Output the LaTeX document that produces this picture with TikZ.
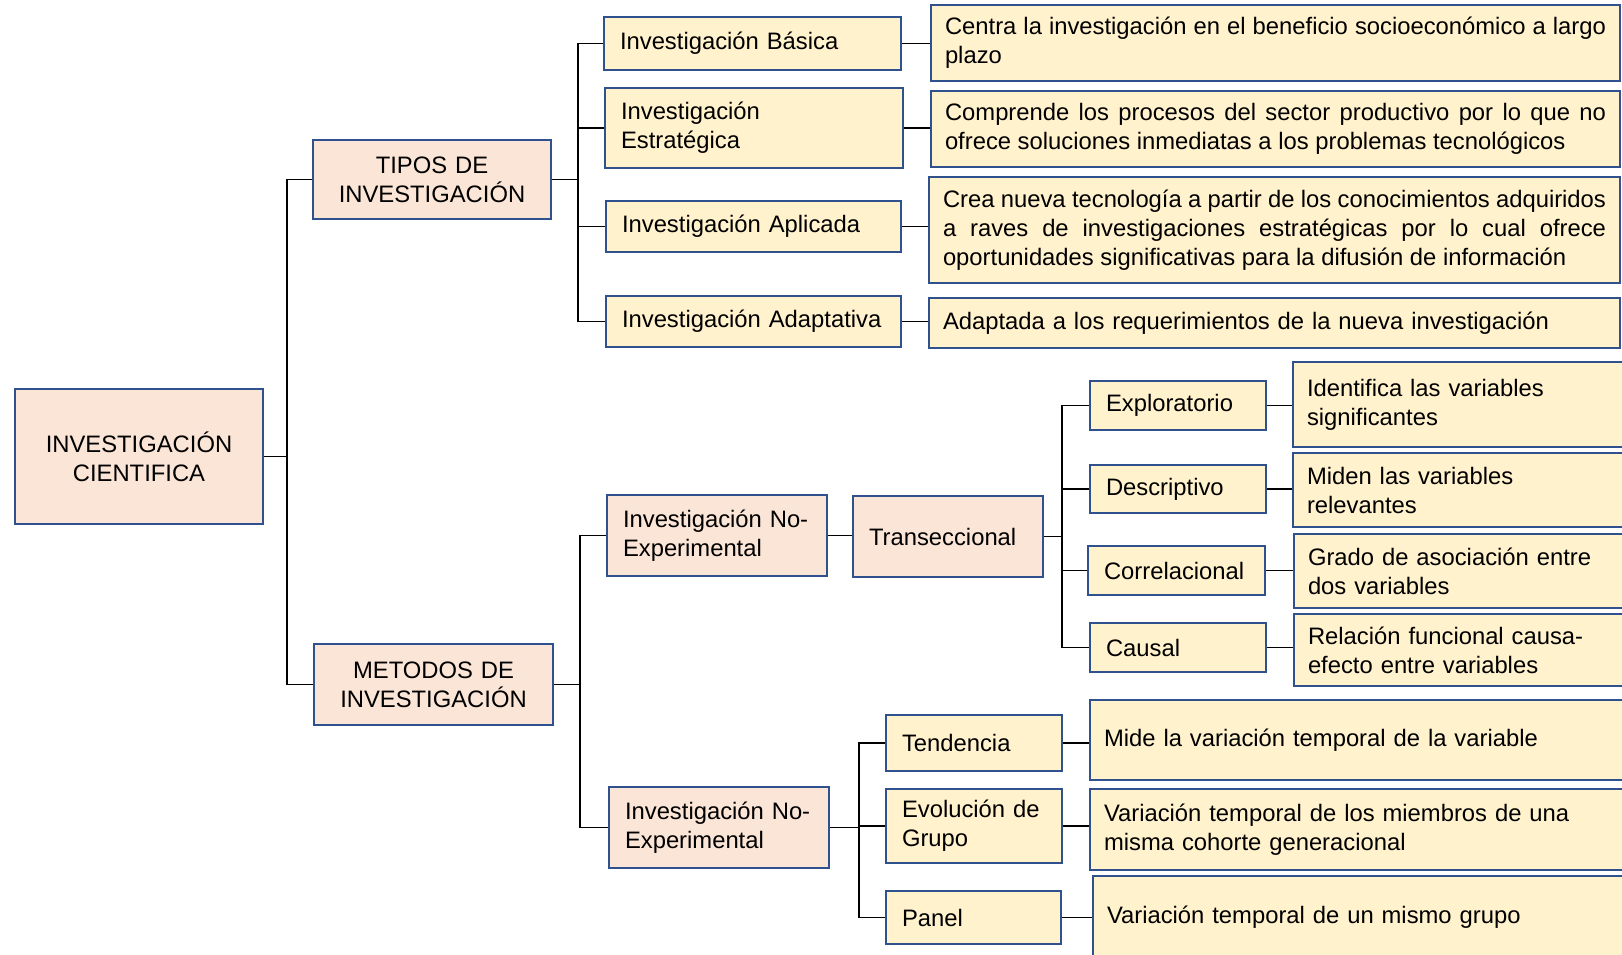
\documentclass[tikz,border=0pt]{standalone}
\usepackage{fontspec}
\setmainfont{Liberation Sans}
\definecolor{borde}{RGB}{47,82,143}
\definecolor{rosa}{RGB}{251,229,214}
\definecolor{crema}{RGB}{255,242,204}

\begin{document}
\begin{tikzpicture}[x=0.5pt, y=-0.5pt,
    caja/.style={draw=borde, line width=1pt, anchor=north west, inner xsep=8pt, inner ysep=2pt, align=left, font=\fontsize{11.9}{14.5}\selectfont},
    cajarosa/.style={caja, fill=rosa},
    cajacrema/.style={caja, fill=crema},
    desc/.style={cajacrema, inner xsep=7pt},
    rama/.style={line width=0.75pt}]
    \path[use as bounding box, clip] (0,0) rectangle (1622,954);
    % Raíz
    \node[cajarosa, align=center, text width=108pt, minimum height=67.5pt] (cient) at (14,388) {INVESTIGACIÓN\\CIENTIFICA};
    \node[cajarosa, align=center, text width=103pt, minimum height=39.5pt] (tipos) at (312,139) {TIPOS DE\\INVESTIGACIÓN};
    \node[cajarosa, align=center, text width=103.5pt, minimum height=40.5pt] (metodos) at (313,643) {METODOS DE\\INVESTIGACIÓN};
    % Tipos de investigación
    \node[cajacrema, text width=132.5pt, minimum height=26.5pt] (basica) at (603,16) {Investigación Básica};
    \node[cajacrema, text width=133pt, minimum height=40pt] (estrat) at (604,87) {Investigación\\Estratégica};
    \node[cajacrema, text width=131.5pt, minimum height=25.5pt] (aplic) at (605,200) {Investigación Aplicada};
    \node[cajacrema, text width=131.5pt, minimum height=25.5pt] (adapt) at (605,295) {Investigación Adaptativa};
    % Descripciones de los tipos
    \node[desc, align=justify, text width=330.5pt, minimum height=38pt] (dbasica) at (930,4) {Centra la investigación en el beneficio socioeconómico a largo\linebreak plazo};
    \node[desc, align=justify, text width=330.5pt, minimum height=38pt] (destrat) at (930,90) {Comprende los procesos del sector productivo por lo que no\linebreak ofrece soluciones inmediatas a los problemas tecnológicos};
    \node[desc, align=justify, text width=331.5pt, minimum height=53pt] (daplic) at (928,176) {Crea nueva tecnología a partir de los conocimientos adquiridos\linebreak a raves de investigaciones estratégicas por lo cual ofrece\linebreak oportunidades significativas para la difusión de información};
    \node[desc, text width=331.5pt, minimum height=25pt] (dadapt) at (928,297) {Adaptada a los requerimientos de la nueva investigación};
    % Métodos: no experimental transeccional
    \node[cajarosa, text width=94pt, minimum height=40.5pt] (noexp1) at (606,494) {Investigación No-\\Experimental};
    \node[cajarosa, text width=79pt, minimum height=40.5pt] (trans) at (852,495) {Transeccional};
    \node[cajacrema, text width=72pt, minimum height=24.5pt] (explor) at (1089,380) {Exploratorio};
    \node[cajacrema, text width=72pt, minimum height=24pt] (descr) at (1089,464) {Descriptivo};
    \node[cajacrema, text width=72.5pt, minimum height=24.5pt] (correl) at (1087,545) {Correlacional};
    \node[cajacrema, text width=72pt, minimum height=24.5pt] (causal) at (1089,622) {Causal};
    \node[desc, text width=160pt, minimum height=42.5pt] (didentif) at (1292,361) {Identifica las variables\\significantes};
    \node[desc, text width=160pt, minimum height=37pt] (dmiden) at (1292,452) {Miden las variables\\relevantes};
    \node[desc, text width=160pt, minimum height=37pt] (dgrado) at (1293,533) {Grado de asociación entre\\dos variables};
    \node[desc, text width=160pt, minimum height=36pt] (drelac) at (1293,613) {Relación funcional causa-\\efecto entre variables};
    % Métodos: no experimental longitudinal
    \node[cajarosa, text width=94pt, minimum height=40.5pt] (noexp2) at (608,786) {Investigación No-\\Experimental};
    \node[cajacrema, text width=72pt, minimum height=28pt] (tend) at (885,714) {Tendencia};
    \node[cajacrema, text width=72pt, minimum height=37pt] (evol) at (885,788) {Evolución de\\Grupo};
    \node[cajacrema, text width=71.5pt, minimum height=26.5pt] (panel) at (885,890) {Panel};
    \node[desc, text width=260pt, minimum height=40pt] (dmide) at (1089,699) {Mide la variación temporal de la variable};
    \node[desc, text width=260pt, minimum height=40.5pt] (dvarmiem) at (1089,788) {Variación temporal de los miembros de una\\misma cohorte generacional};
    \node[desc, text width=260pt, minimum height=41.5pt] (dvargrupo) at (1092,875) {Variación temporal de un mismo grupo};
    % Ramas principales
    \draw[rama] (cient.east) -- ++(23,0) |- (tipos.west);
    \draw[rama] (cient.east) -- ++(23,0) |- (metodos.west);
    % Ramas de los tipos
    \draw[rama] (tipos.east) -- ++(26,0) |- (basica.west);
    \draw[rama] (tipos.east) -- ++(26,0) |- (estrat.west);
    \draw[rama] (tipos.east) -- ++(26,0) |- (aplic.west);
    \draw[rama] (tipos.east) -- ++(26,0) |- (adapt.west);
    \draw[rama] (basica.east) -- (basica.east -| dbasica.west);
    \draw[rama] (estrat.east) -- (estrat.east -| destrat.west);
    \draw[rama] (aplic.east) -- (aplic.east -| daplic.west);
    \draw[rama] (adapt.east) -- (adapt.east -| dadapt.west);
    % Ramas de los métodos
    \draw[rama] (metodos.east) -- ++(26,0) |- (noexp1.west);
    \draw[rama] (metodos.east) -- ++(26,0) |- (noexp2.west);
    \draw[rama] (noexp1.east) -- (noexp1.east -| trans.west);
    \draw[rama] (trans.east) -- ++(18,0) |- (explor.west);
    \draw[rama] (trans.east) -- ++(18,0) |- (descr.west);
    \draw[rama] (trans.east) -- ++(18,0) |- (correl.west);
    \draw[rama] (trans.east) -- ++(18,0) |- (causal.west);
    \draw[rama] (explor.east) -- (explor.east -| didentif.west);
    \draw[rama] (descr.east) -- (descr.east -| dmiden.west);
    \draw[rama] (correl.east) -- (correl.east -| dgrado.west);
    \draw[rama] (causal.east) -- (causal.east -| drelac.west);
    \draw[rama] (noexp2.east) -- ++(29,0) |- (tend.west);
    \draw[rama] (noexp2.east) -- ++(29,0) |- (evol.west);
    \draw[rama] (noexp2.east) -- ++(29,0) |- (panel.west);
    \draw[rama] (tend.east) -- (tend.east -| dmide.west);
    \draw[rama] (evol.east) -- (evol.east -| dvarmiem.west);
    \draw[rama] (panel.east) -- (panel.east -| dvargrupo.west);
\end{tikzpicture}
\end{document}
